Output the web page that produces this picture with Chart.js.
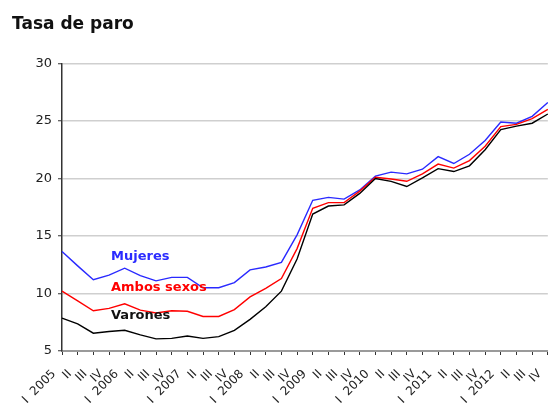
<!DOCTYPE html>
<html>
<head>
<meta charset="utf-8">
<script src="https://cdn.jsdelivr.net/npm/chart.js@4/dist/chart.umd.min.js"></script>
<style>
  html, body { margin: 0; padding: 0; background: #fff; }
  #wrap { width: 548px; height: 406px; overflow: hidden; position: relative; }
  #box { width: 570px; height: 406px; position: absolute; left: 0; top: 0; }
</style>
</head>
<body>
<div id="wrap"><div id="box"><canvas id="paro"></canvas></div></div>
<script>
// Trimestres 2005 - 2012
const quarters = [
    'I  2005', 'II', 'III', 'IV',
    'I  2006', 'II', 'III', 'IV',
    'I  2007', 'II', 'III', 'IV',
    'I  2008', 'II', 'III', 'IV',
    'I  2009', 'II', 'III', 'IV',
    'I  2010', 'II', 'III', 'IV',
    'I  2011', 'II', 'III', 'IV',
    'I  2012', 'II', 'III', 'IV'
];

const mujeres = [13.65, 12.4, 11.2, 11.6, 12.2, 11.55, 11.1, 11.4,
                 11.4, 10.5, 10.5, 10.95, 12.05, 12.3, 12.7, 15.1,
                 18.1, 18.35, 18.2, 19.0, 20.2, 20.55, 20.4, 20.8,
                 21.9, 21.3, 22.1, 23.3, 24.9, 24.8, 25.4, 26.6];

const ambosSexos = [10.2, 9.35, 8.5, 8.7, 9.1, 8.55, 8.3, 8.5,
                    8.45, 8.0, 8.0, 8.6, 9.7, 10.45, 11.3, 13.9,
                    17.4, 17.9, 17.9, 18.9, 20.1, 19.95, 19.75, 20.4,
                    21.25, 20.9, 21.55, 22.8, 24.5, 24.7, 25.2, 26.0];

const varones = [7.85, 7.35, 6.55, 6.7, 6.8, 6.4, 6.05, 6.1,
                 6.3, 6.1, 6.25, 6.8, 7.75, 8.85, 10.2, 13.0,
                 16.9, 17.6, 17.7, 18.7, 20.0, 19.75, 19.3, 20.05,
                 20.85, 20.6, 21.1, 22.5, 24.25, 24.55, 24.8, 25.6];

const seriesNames = ['Mujeres', 'Ambos sexos', 'Varones'];

// series names written inside the plot, next to the curves
const inlineLabels = {
    id: 'inlineLabels',
    afterDatasetsDraw(chart, args, opts) {
        const { ctx, scales: { x, y } } = chart;
        ctx.save();
        ctx.font = 'bold 13px "DejaVu Sans"';
        ctx.textBaseline = 'middle';
        ctx.textAlign = 'left';
        opts.items.forEach(item => {
            ctx.fillStyle = item.color;
            ctx.fillText(item.text, x.getPixelForValue(item.at) + 2, y.getPixelForValue(item.value));
        });
        ctx.restore();
    }
};

function line(label, data, color) {
    return {
        label: label,
        data: data,
        borderColor: color,
        backgroundColor: color,
        borderWidth: 1.4,
        pointRadius: 0,
        tension: 0,
        fill: false
    };
}

const ctx = document.getElementById('paro').getContext('2d');
new Chart(ctx, {
    type: 'line',
    data: {
        labels: quarters,
        datasets: [
            line(seriesNames[2], varones, '#000000'),
            line(seriesNames[1], ambosSexos, '#ff0000'),
            line(seriesNames[0], mujeres, '#2a2aff')
        ]
    },
    options: {
        responsive: true,
        maintainAspectRatio: false,
        animation: false,
        layout: {
            padding: { left: 12, right: 12, top: 0, bottom: 0 }
        },
        plugins: {
            legend: { display: false },
            tooltip: { enabled: false },
            title: {
                display: true,
                text: 'Tasa de paro',
                align: 'start',
                color: '#111',
                font: { family: '"DejaVu Sans"', size: 17, weight: 'bold' },
                padding: { top: 14, bottom: 29 }
            },
            inlineLabels: {
                items: [
                    { text: seriesNames[0], color: '#2a2aff', at: 3, value: 13.2 },
                    { text: seriesNames[1], color: '#ff0000', at: 3, value: 10.5 },
                    { text: seriesNames[2], color: '#111111', at: 3, value: 8.05 }
                ]
            }
        },
        scales: {
            x: {
                offset: false,
                grid: {
                    drawOnChartArea: false,
                    drawTicks: true,
                    tickLength: 4,
                    tickColor: '#333',
                    tickWidth: 1
                },
                border: { color: '#9a9a9a', width: 2 },
                ticks: {
                    autoSkip: false,
                    minRotation: 45,
                    maxRotation: 45,
                    padding: 12,
                    labelOffset: -8,
                    color: '#222',
                    font: { family: '"DejaVu Sans"', size: 12 }
                },
                afterFit(scale) { scale.height = 55; }
            },
            y: {
                min: 5,
                max: 30,
                grid: {
                    color: '#cfcfcf',
                    lineWidth: 1.5,
                    drawTicks: true,
                    tickLength: 4,
                    tickColor: '#333',
                    tickWidth: 1
                },
                border: { color: '#333', width: 1.5 },
                ticks: {
                    stepSize: 5,
                    padding: 6,
                    color: '#222',
                    font: { family: '"DejaVu Sans"', size: 13 }
                },
                afterFit(scale) { scale.width = 50; }
            }
        }
    },
    plugins: [inlineLabels]
});
</script>
</body>
</html>
